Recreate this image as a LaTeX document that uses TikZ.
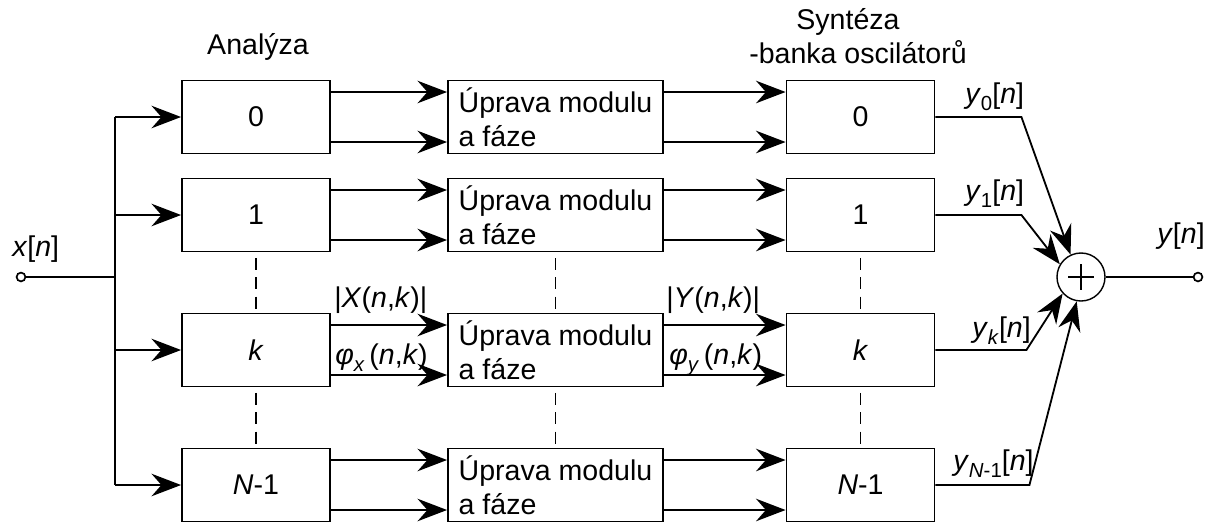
\documentclass[tikz,border=0pt]{standalone}
\usepackage{fontspec}
\setmainfont{Liberation Sans}
\usetikzlibrary{arrows.meta,calc}
\newcommand{\subs}[1]{\raisebox{-5.5pt}{\fontsize{14.5}{14.5}\selectfont #1}}

\begin{document}
\begin{tikzpicture}[x=0.025cm,y=-0.025cm,font=\fontsize{20.3}{24.2}\selectfont,
  blk/.style={draw,line width=1.3pt,minimum width=3.7cm,minimum height=1.825cm,inner sep=0pt},
  modblk/.style={blk,minimum width=5.375cm,align=left},
  sig/.style={line width=1.3pt,-{Stealth[length=21pt,width=16pt,inset=7pt]}},
  wire/.style={line width=1.3pt},
  gap/.style={line width=1.4pt,dash pattern=on 8.5pt off 5.3pt,dash phase=10pt},
  term/.style={draw,circle,line width=1.2pt,fill=white,minimum size=0.22cm,inner sep=0pt},
  lbl/.style={anchor=base west,inner sep=0pt}]
  \useasboundingbox (0,0) rectangle (1206,522); % 図全体の範囲
  % 分析部のブロック
  \node[blk] (ana0) at (256,117) {0};
  \node[blk] (ana1) at (256,215) {1};
  \node[blk] (anak) at (256,350) {\textit{k}};
  \node[blk] (anaN) at (256,485) {\textit{N}-1};
  % 振幅・位相の修正ブロック
  \node[modblk] (mod0) at (555.5,117) {Úprava modulu\\a fáze};
  \node[modblk] (mod1) at (555.5,215) {Úprava modulu\\a fáze};
  \node[modblk] (modk) at (555.5,350) {Úprava modulu\\a fáze};
  \node[modblk] (modN) at (555.5,485) {Úprava modulu\\a fáze};
  % 合成部（発振器バンク）のブロック
  \node[blk] (syn0) at (860.5,117) {0};
  \node[blk] (syn1) at (860.5,215) {1};
  \node[blk] (synk) at (860.5,350) {\textit{k}};
  \node[blk] (synN) at (860.5,485) {\textit{N}-1};
  \node[draw,circle,line width=1pt,minimum size=1.2cm,inner sep=0pt] (sum) at (1081,277) {}; % 加算器
  \draw[line width=1pt] ($(sum)+(-13,0)$) -- ($(sum)+(13,0)$) ($(sum)+(0,-13)$) -- ($(sum)+(0,13)$); % 加算器の＋記号
  \coordinate (bus) at (115,277); % 入力を分配する縦線の位置
  % 見出し
  \node[anchor=base] (tana) at (258,54) {Analýza};
  \node[anchor=base] (tsyn) at (848,29) {Syntéza};
  \node[anchor=base] (tbank) at (858,63) {-banka oscilátorů};
  % 入力側の配線
  \draw[wire] (ana0.west -| bus) -- (anaN.west -| bus); % 分配用の縦線
  \draw[wire] (bus) -- (21,277); % 入力端子への線
  \draw[sig] (ana0.west -| bus) -- (ana0.west);
  \draw[sig] (ana1.west -| bus) -- (ana1.west);
  \draw[sig] (anak.west -| bus) -- (anak.west);
  \draw[sig] (anaN.west -| bus) -- (anaN.west);
  \node[term] (xin) at (21,277) {}; % 入力端子
  \node[lbl] (xlbl) at (12,256) {\textit{x}[\textit{n}]};
  % 分析部から修正ブロックへ（上：振幅，下：位相）
  \draw[sig] ($(ana0.east)+(0,-25)$) -- ($(mod0.west)+(0,-25)$);
  \draw[sig] ($(ana0.east)+(0,25)$) -- ($(mod0.west)+(0,25)$);
  \draw[sig] ($(ana1.east)+(0,-25)$) -- ($(mod1.west)+(0,-25)$);
  \draw[sig] ($(ana1.east)+(0,25)$) -- ($(mod1.west)+(0,25)$);
  \draw[sig] ($(anak.east)+(0,-25)$) -- ($(modk.west)+(0,-25)$);
  \draw[sig] ($(anak.east)+(0,25)$) -- ($(modk.west)+(0,25)$);
  \draw[sig] ($(anaN.east)+(0,-25)$) -- ($(modN.west)+(0,-25)$);
  \draw[sig] ($(anaN.east)+(0,25)$) -- ($(modN.west)+(0,25)$);
  % 修正ブロックから合成部へ
  \draw[sig] ($(mod0.east)+(0,-25)$) -- ($(syn0.west)+(0,-25)$);
  \draw[sig] ($(mod0.east)+(0,25)$) -- ($(syn0.west)+(0,25)$);
  \draw[sig] ($(mod1.east)+(0,-25)$) -- ($(syn1.west)+(0,-25)$);
  \draw[sig] ($(mod1.east)+(0,25)$) -- ($(syn1.west)+(0,25)$);
  \draw[sig] ($(modk.east)+(0,-25)$) -- ($(synk.west)+(0,-25)$);
  \draw[sig] ($(modk.east)+(0,25)$) -- ($(synk.west)+(0,25)$);
  \draw[sig] ($(modN.east)+(0,-25)$) -- ($(synN.west)+(0,-25)$);
  \draw[sig] ($(modN.east)+(0,25)$) -- ($(synN.west)+(0,25)$);
  % k番目の帯域の信号名
  \node[lbl] (xmag) at (334,307) {|\textit{X}(\textit{n},\textit{k})|};
  \node[lbl] (xph) at (335,364) {\textit{φ}\subs{\textit{x}}\,(\textit{n},\textit{k})};
  \node[lbl] (ymag) at (666,307) {|\textit{Y}(\textit{n},\textit{k})|};
  \node[lbl] (yph) at (669,364) {\textit{φ}\subs{\textit{y}}\,(\textit{n},\textit{k})};
  % 省略を示す破線
  \draw[gap] (ana1.south) -- (anak.north) (anak.south) -- (anaN.north);
  \draw[gap] (mod1.south) -- (modk.north) (modk.south) -- (modN.north);
  \draw[gap] (syn1.south) -- (synk.north) (synk.south) -- (synN.north);
  % 合成部の出力を加算器へ
  \draw[sig] (syn0.east) -- ++(86,0) -- (sum.115);
  \draw[sig] (syn1.east) -- ++(86,0) -- (sum.149);
  \draw[sig] (synk.east) -- ++(91,0) -- (sum.222);
  \draw[sig] (synN.east) -- ++(94,0) -- (sum.260);
  \node[lbl] (y0lbl) at (965,103) {\textit{y}\subs{0}[\textit{n}]};
  \node[lbl] (y1lbl) at (965,200) {\textit{y}\subs{1}[\textit{n}]};
  \node[lbl] (yklbl) at (972,337) {\textit{y}\subs{\textit{k}}[\textit{n}]};
  \node[lbl] (yNlbl) at (953,470) {\textit{y}\subs{\textit{N}-1}[\textit{n}]};
  % 出力
  \node[term] (yout) at (1198,277) {}; % 出力端子
  \draw[wire] (sum) -- (yout);
  \node[lbl] (ylbl) at (1157,243) {\textit{y}[\textit{n}]};
\end{tikzpicture}
\end{document}
